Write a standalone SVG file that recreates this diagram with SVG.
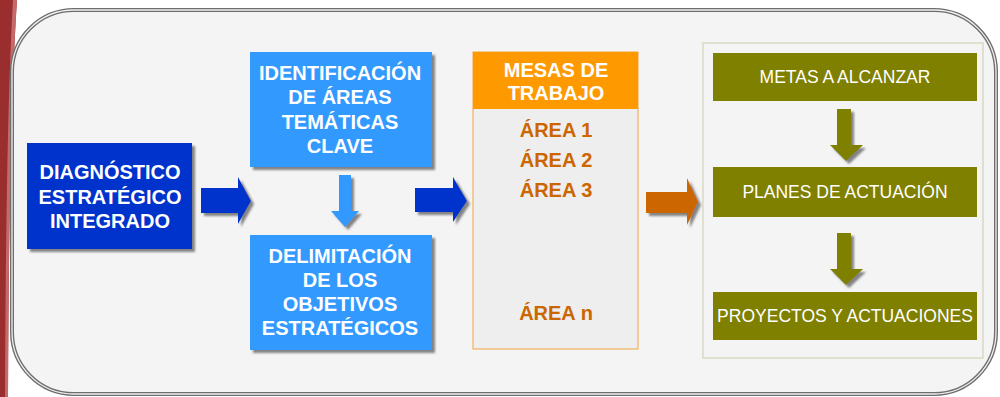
<svg xmlns="http://www.w3.org/2000/svg" width="1000" height="397" viewBox="0 0 1000 397">
<defs>
<filter id="sh" x="-10%" y="-10%" width="130%" height="130%">
<feDropShadow dx="3" dy="3" stdDeviation="0.8" flood-color="#777" flood-opacity="0.9"/>
</filter>
<style>
.b{font-family:"Liberation Sans",Arial,sans-serif;font-weight:bold;font-size:20px;fill:#fff;text-anchor:middle}
.ar{font-family:"Liberation Sans",Arial,sans-serif;font-weight:bold;font-size:20px;fill:#cc6600;text-anchor:middle}
.o{font-family:"Liberation Sans",Arial,sans-serif;font-size:17.5px;fill:#fff;text-anchor:middle}
.olive{fill:#808000}
.lb{fill:#3399ff}
.db{fill:#0033cc}
</style>
</defs>
<rect width="1000" height="397" fill="#fff"/>
<path d="M0,0 L17,0 Q9,120 8,397 L0,397 Z" fill="#9a2e2e"/>
<path d="M13,0 L17,0 Q9,120 8,397 L5,397 Q6,120 13,0 Z" fill="#c46a6a"/>
<rect x="12" y="10" width="984" height="384" rx="62" fill="#f4f4f4" stroke="#6e6e6e" stroke-width="4"/>
<rect x="12" y="10" width="984" height="384" rx="62" fill="none" stroke="#f0f0f0" stroke-width="1.3"/>

<g id="diagnostico">
<rect x="27" y="143" width="165" height="106" class="db" filter="url(#sh)"/>
<text class="b" x="110" y="179">DIAGNÓSTICO</text>
<text class="b" x="110" y="203.5">ESTRATÉGICO</text>
<text class="b" x="110" y="228">INTEGRADO</text>
</g>

<g id="identificacion">
<rect x="250" y="52" width="182" height="115" class="lb" filter="url(#sh)"/>
<text class="b" x="340" y="80">IDENTIFICACIÓN</text>
<text class="b" x="340" y="104">DE ÁREAS</text>
<text class="b" x="340" y="129">TEMÁTICAS</text>
<text class="b" x="340" y="153">CLAVE</text>
</g>

<g id="delimitacion">
<rect x="250" y="235" width="182" height="115" class="lb" filter="url(#sh)"/>
<text class="b" x="340" y="263">DELIMITACIÓN</text>
<text class="b" x="340" y="287">DE LOS</text>
<text class="b" x="340" y="311">OBJETIVOS</text>
<text class="b" x="340" y="335">ESTRATÉGICOS</text>
</g>

<g id="mesas">
<rect x="473" y="52" width="165" height="297" fill="#eeeeee" stroke="#f0a640" stroke-width="1"/>
<rect x="473" y="52" width="165" height="57" fill="#ff9900"/>
<text class="b" x="556" y="77">MESAS DE</text>
<text class="b" x="556" y="100">TRABAJO</text>
<text class="ar" x="556" y="137">ÁREA 1</text>
<text class="ar" x="556" y="167">ÁREA 2</text>
<text class="ar" x="556" y="197">ÁREA 3</text>
<text class="ar" x="556" y="320">ÁREA n</text>
</g>

<g id="panel">
<rect x="703" y="43" width="280" height="315" fill="#f4f4f4" stroke="#d9d9c4" stroke-width="1.5"/>
</g>
<g id="metas">
<rect x="713" y="53" width="264" height="48" class="olive"/>
<text class="o" x="845" y="83">METAS A ALCANZAR</text>
</g>
<g id="planes">
<rect x="713" y="167" width="264" height="50" class="olive"/>
<text class="o" x="845" y="198">PLANES DE ACTUACIÓN</text>
</g>
<g id="proyectos">
<rect x="713" y="292" width="264" height="48" class="olive"/>
<text class="o" x="845" y="322">PROYECTOS Y ACTUACIONES</text>
</g>

<g id="connectors">
<path d="M201,188 L238,188 L238,177 L251,201 L238,224 L238,213 L201,213 Z" class="db" filter="url(#sh)"/>
<path d="M415,188 L453,188 L453,177 L467,201 L453,222 L453,212 L415,212 Z" class="db" filter="url(#sh)"/>
<path d="M339,175 L351,175 L351,211 L359,211 L345,227 L331,211 L339,211 Z" class="lb" filter="url(#sh)"/>
<path d="M646,192 L687,192 L687,178 L698,202 L687,225 L687,213 L646,213 Z" fill="#cc6600" filter="url(#sh)"/>
<path d="M837,109 L851,109 L851,145 L863,145 L846,161 L830,145 L837,145 Z" class="olive" filter="url(#sh)"/>
<path d="M837,233 L851,233 L851,269 L863,269 L846,285 L830,269 L837,269 Z" class="olive" filter="url(#sh)"/>
</g>
</svg>
